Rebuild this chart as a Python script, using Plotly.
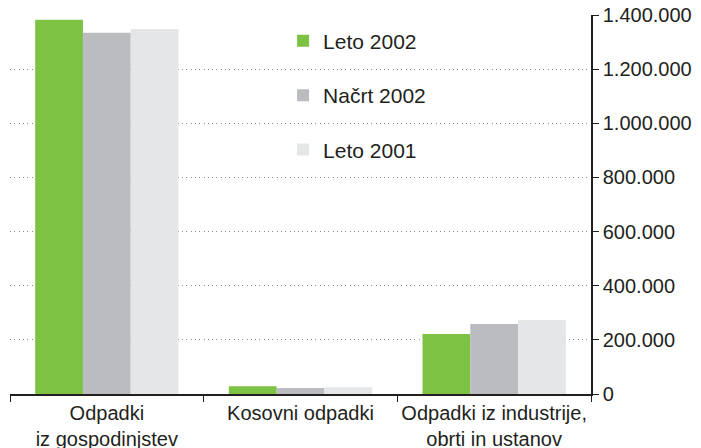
import plotly.graph_objects as go

categories = ["Odpadki<br>iz gospodinjstev", "Kosovni odpadki", "Odpadki iz industrije,<br>obrti in ustanov"]
series_names = ["Leto 2002", "Načrt 2002", "Leto 2001"]
leto_2002 = [1382000, 29000, 222000]
nacrt_2002 = [1334000, 22000, 259000]
leto_2001 = [1348000, 25000, 273000]
y_ticks = [0, 200000, 400000, 600000, 800000, 1000000, 1200000, 1400000]

colors = ["#7DC243", "#BBBCBF", "#E5E6E8"]
values = [leto_2002, nacrt_2002, leto_2001]

fig = go.Figure()
for i, (name, vals) in enumerate(zip(series_names, values)):
    fig.add_trace(go.Bar(
        x=categories, y=vals, name=name, marker_color=colors[i],
        marker_line_width=0, legendgroup=name,
    ))

font = dict(family="Liberation Sans, Arial, sans-serif", size=20, color="#231F20")
fig.update_layout(
    width=693, height=440,
    margin=dict(l=2, r=110, t=7, b=54, autoexpand=False),
    paper_bgcolor="white", plot_bgcolor="white",
    barmode="group", bargap=0.26, bargroupgap=0,
    separators=",.",
    font=font,
    legend=dict(x=0.47, y=0.985, xanchor="left", yanchor="top",
                font=dict(size=21, color="#231F20"),
                tracegroupgap=24, traceorder="grouped",
                bgcolor="rgba(0,0,0,0)"),
    xaxis=dict(
        type="category", tickson="boundaries", ticks="outside", ticklen=6,
        tickcolor="#231F20", showline=True, linecolor="#231F20", linewidth=1.5,
        showgrid=False, range=[-0.5, 2.5], tickfont=font,
        tickangle=0, automargin=False,
    ),
    yaxis=dict(
        side="right", range=[0, 1400000], tickvals=y_ticks, tickformat=",d",
        showline=True, linecolor="#231F20", linewidth=1.5,
        ticks="outside", ticklen=6, tickcolor="#231F20",
        showgrid=True, gridcolor="#8C8C8C", griddash="1px,3.3px", gridwidth=1,
        zeroline=False, tickfont=font, automargin=False,
        ticklabeloverflow="allow",
    ),
)

fig.write_html("out.html")
